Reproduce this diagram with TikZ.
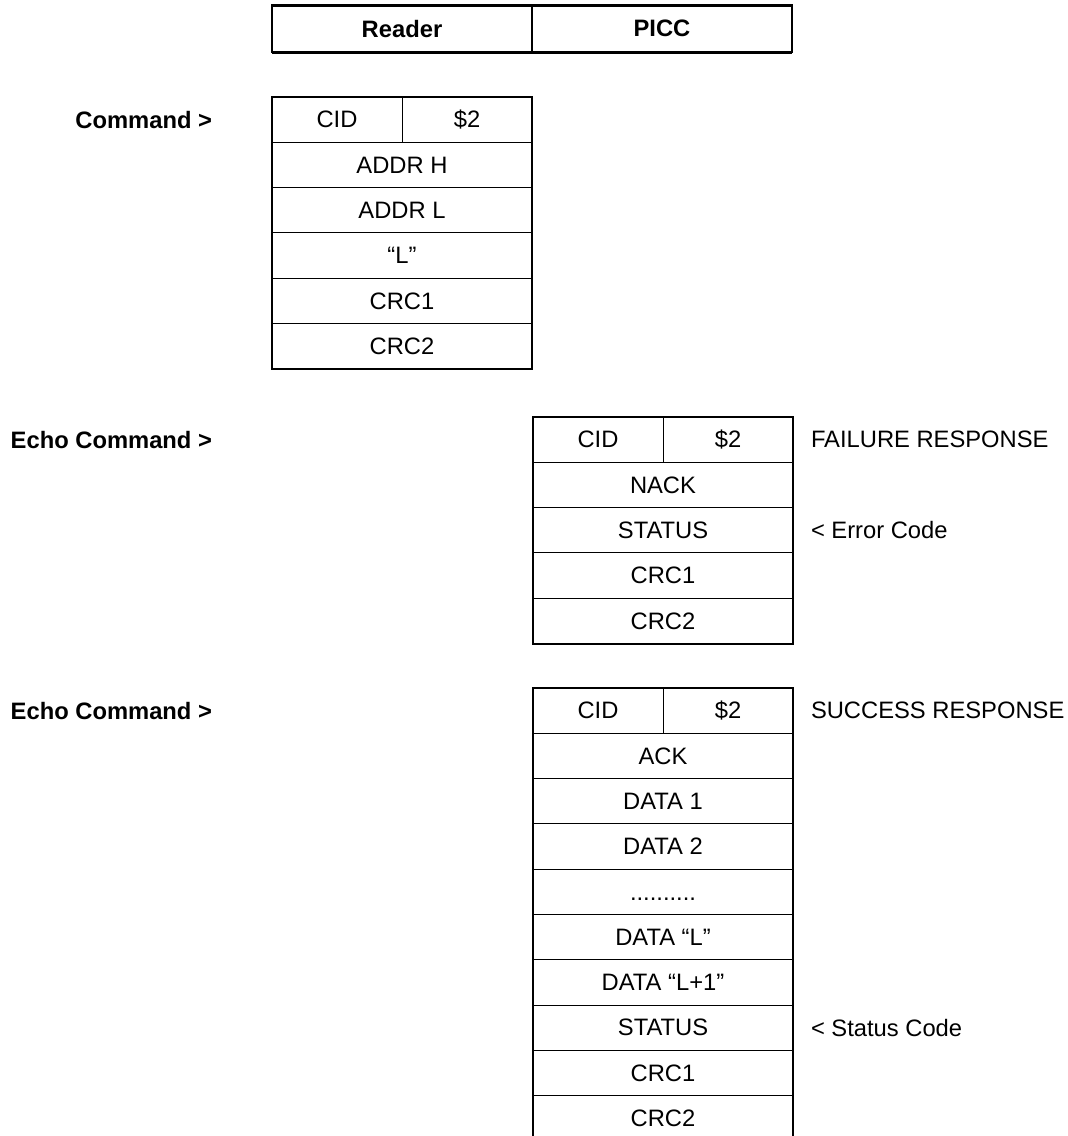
\documentclass[tikz,border=0pt]{standalone}
\usepackage{fontspec}
\setmainfont{Liberation Sans}
\usetikzlibrary{positioning}

\begin{document}
\begin{tikzpicture}[
        x=0.4pt, y=-0.4pt,
        node distance=0pt and 0pt,
        every node/.style={font=\fontsize{9.5}{11}\selectfont, inner sep=0pt, outer sep=0pt},
        cell/.style={draw, line width=.4pt, minimum width=104pt, minimum height=18.12pt},
        halfcell/.style={cell, minimum width=52pt},
        headcell/.style={draw, line width=.6pt, minimum width=104pt, minimum height=18.8pt, font=\fontsize{9.5}{11}\selectfont\bfseries},
        frame/.style={draw, line width=.8pt},
        side/.style={font=\fontsize{9.5}{11}\selectfont\bfseries, anchor=east},
        note/.style={anchor=west}
    ]

    \useasboundingbox (0,0) rectangle (1068,1136);

    % Header
    \node (reader)[headcell, anchor=north west] at (272,5) {Reader};
    \node (picc)[headcell, right=of reader] {PICC};

    % Command
    \node (cmdcid)[halfcell, anchor=north west] at (272,97) {CID};
    \node (cmdtwo)[halfcell, right=of cmdcid] {\$2};
    \node (cmdaddrh)[cell, below right=of cmdcid.south west] {ADDR H};
    \node (cmdaddrl)[cell, below=of cmdaddrh] {ADDR L};
    \node (cmdlen)[cell, below=of cmdaddrl] {“L”};
    \node (cmdcrca)[cell, below=of cmdlen] {CRC1};
    \node (cmdcrcb)[cell, below=of cmdcrca] {CRC2};
    \node (cmdlabel)[side] at (212,0 |- cmdcid) {Command >};

    % Failure response
    \node (failcid)[halfcell, anchor=north west] at (533,417) {CID};
    \node (failtwo)[halfcell, right=of failcid] {\$2};
    \node (failnack)[cell, below right=of failcid.south west] {NACK};
    \node (failstat)[cell, below=of failnack] {STATUS};
    \node (failcrca)[cell, below=of failstat] {CRC1};
    \node (failcrcb)[cell, below=of failcrca] {CRC2};
    \node (faillabel)[side] at (212,0 |- failcid) {Echo Command >};
    \node (failnote)[note] at (811,0 |- failcid) {FAILURE RESPONSE};
    \node (failcode)[note] at (811,0 |- failstat) {< Error Code};

    % Success response
    \node (succid)[halfcell, anchor=north west] at (533,688) {CID};
    \node (suctwo)[halfcell, right=of succid] {\$2};
    \node (sucack)[cell, below right=of succid.south west] {ACK};
    \node (sucdata)[cell, below=of sucack] {DATA 1};
    \node (sucdatb)[cell, below=of sucdata] {DATA 2};
    \node (sucdots)[cell, below=of sucdatb] {\vphantom{D}..........};
    \node (sucdatl)[cell, below=of sucdots] {DATA “L”};
    \node (sucdatm)[cell, below=of sucdatl] {DATA “L+1”};
    \node (sucstat)[cell, below=of sucdatm] {STATUS};
    \node (succrca)[cell, below=of sucstat] {CRC1};
    \node (succrcb)[cell, below=of succrca] {CRC2};
    \node (suclabel)[side] at (212,0 |- succid) {Echo Command >};
    \node (sucnote)[note] at (811,0 |- succid) {SUCCESS RESPONSE};
    \node (succode)[note] at (811,0 |- sucstat) {< Status Code};

    % Frames
    \draw[line width=1.2pt] (reader.north west) -- (picc.north east);
    \draw[line width=1.2pt] (reader.south west) -- (picc.south east);
    \draw[frame] (cmdcid.north west) rectangle (cmdcrcb.south east);
    \draw[frame] (failcid.north west) rectangle (failcrcb.south east);
    \draw[frame] (succid.north west) rectangle (succrcb.south east);

\end{tikzpicture}
\end{document}
